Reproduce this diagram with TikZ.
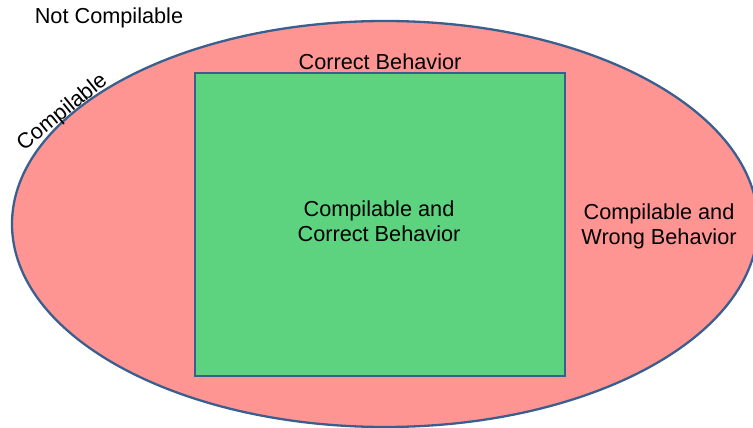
\documentclass[tikz,border=0pt]{standalone}
\usepackage{fontspec}
\setmainfont{Liberation Sans}
\usetikzlibrary{shapes.geometric}
\definecolor{pinkfill}{HTML}{FF9593}
\definecolor{greenfill}{HTML}{5DD27F}
\definecolor{edgeblue}{HTML}{3A5F8E}
\tikzset{
  lbl/.style={font=\fontsize{21.7}{25}\selectfont, text=black, inner sep=0pt, align=center},
  region/.style={draw=edgeblue, line width=2.3pt, inner sep=0pt}
}
\begin{document}
\begin{tikzpicture}[x=1pt,y=-1pt]
\useasboundingbox (0,0) rectangle (753,428);
\clip (0,0) rectangle (753,428);
\node[region, ellipse, fill=pinkfill, minimum width=746, minimum height=406] (comp) at (385,224) {};
\node[region, rectangle, fill=greenfill, minimum width=370, minimum height=303] (correct) at (380,224.5) {};
\node[lbl, anchor=base] (notcomp) at (109,24) {Not Compilable};
\node[lbl, anchor=base] (corrbeh) at (380,69.3) {Correct Behavior};
\node[lbl, anchor=base, rotate=39] (complbl) at (66,117) {Compilable};
\node[lbl] (inner) at (379,221) {Compilable and\\Correct Behavior};
\node[lbl] (wrong) at (659,226) {Compilable and\\Wrong Behavior};
\end{tikzpicture}
\end{document}
